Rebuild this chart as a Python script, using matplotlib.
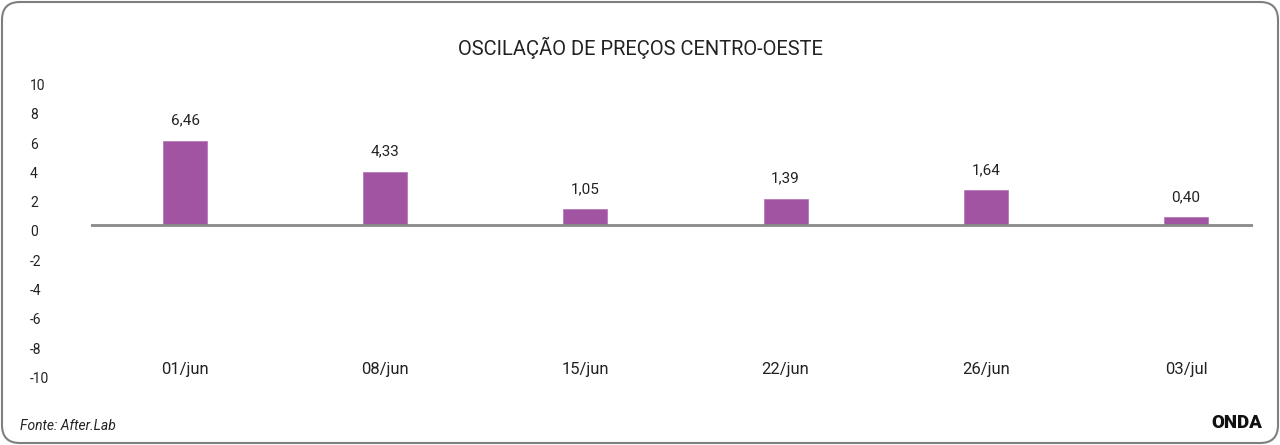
import numpy as np
import matplotlib
matplotlib.use("Agg")
import matplotlib.pyplot as plt
from matplotlib.patches import FancyBboxPatch
from matplotlib.transforms import ScaledTranslation

# chart data (bar heights, labels as printed)
categories = ["01/jun", "08/jun", "15/jun", "22/jun", "26/jun", "03/jul"]
bar_heights = [5.75, 3.65, 1.1, 1.8, 2.4, 0.52]
bar_labels = ["6,46", "4,33", "1,05", "1,39", "1,64", "0,40"]
y_ticks = list(range(-10, 11, 2))

plt.rcParams['font.family'] = ['Roboto', 'DejaVu Sans']
text_color = "#222222"
bar_color = "#A154A2"

fig = plt.figure(figsize=(12.8, 4.45), dpi=100)
W, H = 1280, 445

# axes placed in pixel coordinates: x 91..1253, y 0 at 225, scale 14.65 px/unit
left, right = 91, 1253
top, bottom = 225 - 146.5, 225 + 146.5
ax = fig.add_axes([left / W, 1 - bottom / H, (right - left) / W, (bottom - top) / H])

x = np.arange(len(categories))
step = 200.2
ax.set_xlim(-(185 - left) / step, (len(categories) - 1) + (right - 1186) / step)
ax.set_ylim(-10, 10)

ax.bar(x, bar_heights, width=44 / step, color=bar_color, edgecolor="#B77BB6", linewidth=0.6, zorder=2)
ax.axhline(0, color="#8a8a8a", linewidth=2, zorder=3)

for xi, h, lab in zip(x, bar_heights, bar_labels):
  ax.annotate(lab, (xi, h), xytext=(0, 13), textcoords="offset pixels",
              ha="center", va="bottom", fontsize=11, color=text_color)

for s in ax.spines.values():
  s.set_visible(False)

ax.set_xticks(x)
ax.set_xticklabels(categories, fontsize=12, color=text_color)
ax.tick_params(axis="x", length=0, pad=-7)

ax.set_yticks(y_ticks)
ax.set_yticklabels([str(v) for v in y_ticks], fontsize=10, color=text_color, ha="left")
ax.tick_params(axis="y", length=0, pad=44)
shift = ScaledTranslation(0, -6 / 100, fig.dpi_scale_trans)
for lab in ax.get_yticklabels():
  lab.set_transform(lab.get_transform() + shift)

fig.text(640 / W, 1 - 48 / H, "OSCILAÇÃO DE PREÇOS CENTRO-OESTE", ha="center", va="center",
         fontsize=14.5, color=text_color)
fig.text(20 / W, 1 - 426 / H, "Fonte: After.Lab", ha="left", va="center",
         fontsize=10, style="italic", color=text_color)
fig.text(1262 / W, 1 - 423 / H, "ONDA", ha="right", va="center",
         fontsize=13.5, fontweight="heavy", color="#111111")

# rounded frame round the whole figure
frame = FancyBboxPatch((2 / W, 2 / H), 1 - 4 / W, 1 - 4 / H,
                       boxstyle="round,pad=0,rounding_size=0.014",
                       transform=fig.transFigure, facecolor="none",
                       edgecolor="#7f7f7f", linewidth=1.5, mutation_aspect=W / H)
fig.patches.append(frame)

fig.savefig("out.png", dpi=100)
